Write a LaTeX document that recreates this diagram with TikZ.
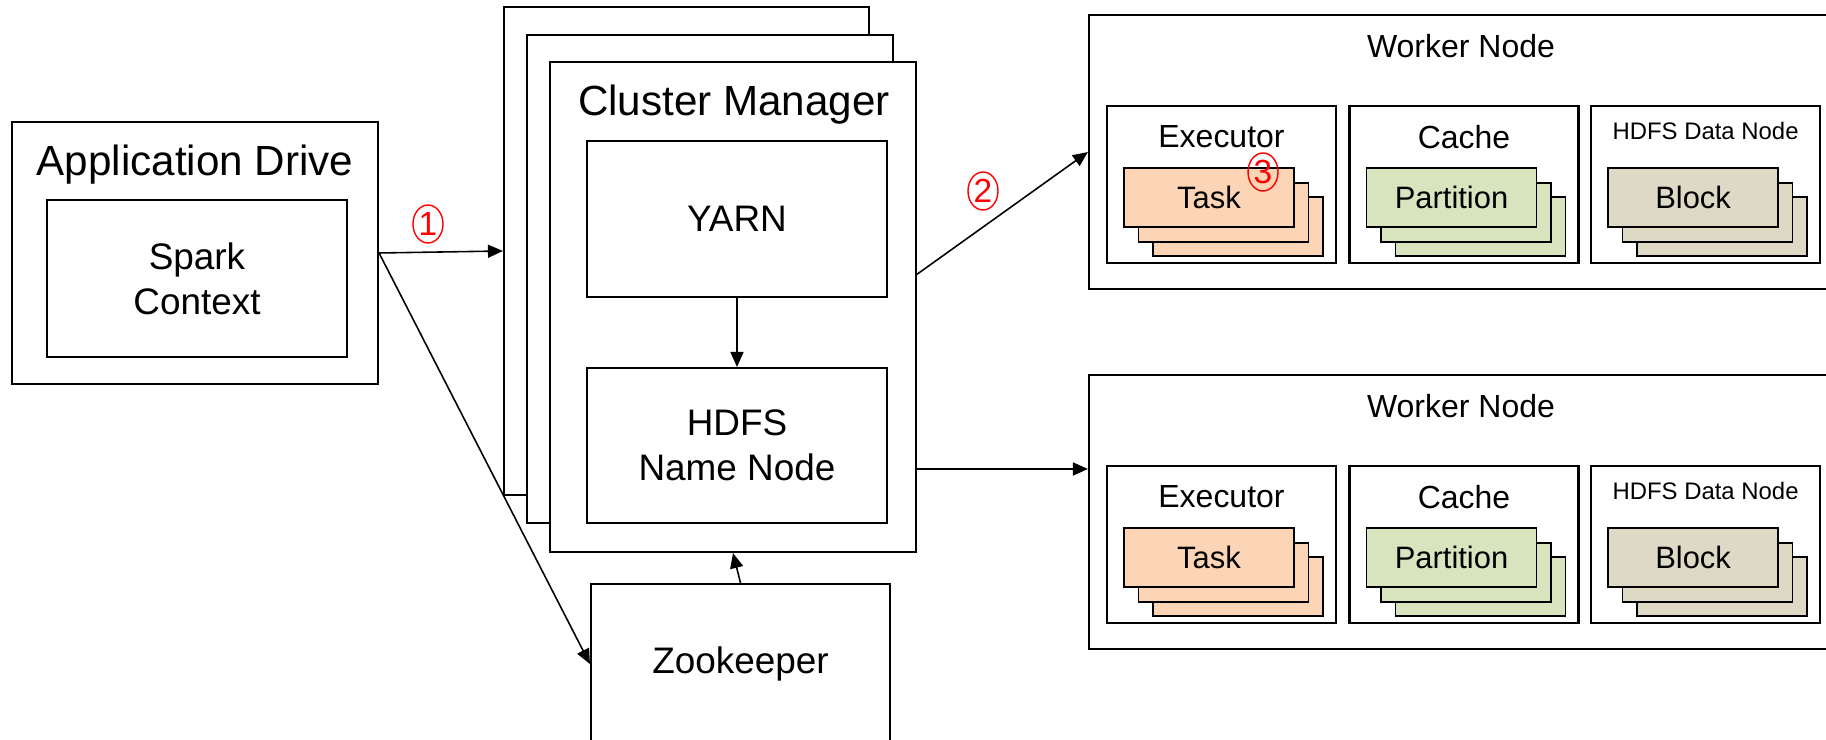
\documentclass[tikz,border=0pt]{standalone}
\usepackage{fontspec}
\setmainfont{Liberation Sans}
\usetikzlibrary{arrows.meta,shapes.geometric}

\definecolor{taskfill}{RGB}{251,213,181}
\definecolor{partfill}{RGB}{215,228,189}
\definecolor{blockfill}{RGB}{221,217,196}

\tikzset{
	box/.style={draw, line width=0.6pt, fill=white, inner sep=0pt, align=center},
	card/.style={draw, line width=0.45pt, minimum width=1.70cm, minimum height=0.59cm, inner sep=0pt, font=\fontsize{8.8}{10}\selectfont},
	num/.style={draw=red, text=red, ellipse, line width=0.4pt, minimum width=0.30cm, minimum height=0.38cm, inner sep=0pt, font=\fontsize{9.5}{9.5}\selectfont},
	link/.style={-{Triangle[length=0.15cm, width=0.13cm]}, line width=0.45pt},
	titletext/.style={font=\fontsize{12}{14}\selectfont},
	maintext/.style={font=\fontsize{10.5}{12.8}\selectfont},
	midtext/.style={font=\fontsize{9.1}{11}\selectfont},
	smalltext/.style={font=\fontsize{6.8}{8}\selectfont}
}

\begin{document}
\begin{tikzpicture}[y=-1cm]
		\useasboundingbox (0,0) rectangle (18.26,7.40);
		\clip (0,0) rectangle (18.26,7.40);

		% driver
		\node[box, minimum width=3.66cm, minimum height=2.62cm] (app) at (1.95,2.53) {};
		\node[titletext] (apptitle) at (1.95,1.645) {Application Drive};
		\node[box, maintext, minimum width=3.00cm, minimum height=1.57cm] (spark) at (1.97,2.785) {Spark\\Context};

		% cluster manager
		\node[box, minimum width=3.65cm, minimum height=4.88cm] (cm1) at (6.865,2.51) {};
		\node[box, minimum width=3.66cm, minimum height=4.88cm] (cm2) at (7.10,2.79) {};
		\node[box, minimum width=3.66cm, minimum height=4.90cm] (cm3) at (7.33,3.07) {};
		\node[titletext] (cmtitle) at (7.34,1.045) {Cluster Manager};
		\node[box, maintext, minimum width=3.00cm, minimum height=1.56cm] (yarn) at (7.37,2.19) {YARN};
		\node[box, maintext, minimum width=3.00cm, minimum height=1.55cm] (hdfs) at (7.37,4.455) {HDFS\\Name Node};
		\node[box, maintext, minimum width=2.99cm, minimum height=1.60cm] (zk) at (7.405,6.64) {Zookeeper};

		% worker nodes
		\foreach \r/\dy in {1/0, 2/3.60} {
			\node[box, minimum width=7.50cm, minimum height=2.74cm] (w\r) at (14.64,1.52+\dy) {};
			\node[midtext] (wt\r) at (14.61,0.46+\dy) {Worker Node};
			\foreach \c/\x/\col/\txt in {exec/12.215/taskfill/Task, cache/14.64/partfill/Partition, data/17.056/blockfill/Block} {
				\node[box, minimum width=2.29cm, minimum height=1.57cm] (\c\r) at (\x,1.845+\dy) {};
				\node[card, fill=\col] (\c\r-3) at (\x+0.165,2.265+\dy) {};
				\node[card, fill=\col] (\c\r-2) at (\x+0.02,2.125+\dy) {};
				\node[card, fill=\col] (\c\r-1) at (\x-0.125,1.975+\dy) {\txt};
			}
			\node[midtext] (et\r) at (12.215,1.37+\dy) {Executor};
			\node[midtext] (ct\r) at (14.64,1.37+\dy) {Cache};
			\node[smalltext] (dt\r) at (17.056,1.31+\dy) {HDFS Data Node};
		}

		\coordinate (cmout1) at (9.16,2.75);
		\coordinate (cmout2) at (9.16,4.69);

		\draw[link] (app.east) -- (cm1.west);
		\draw[link] (app.east) -- (zk.west);
		\draw[link] (yarn) -- (hdfs);
		\draw[link] (zk.north) -- (cm3.south);
		\draw[link] (cmout1) -- (w1.west);
		\draw[link] (cmout2) -- (cmout2 -| w2.west);

		\node[num] (n1) at (4.28,2.24) {1};
		\node[num] (n2) at (9.83,1.91) {2};
		\node[num] (n3) at (12.63,1.72) {3};
	\end{tikzpicture}
\end{document}
